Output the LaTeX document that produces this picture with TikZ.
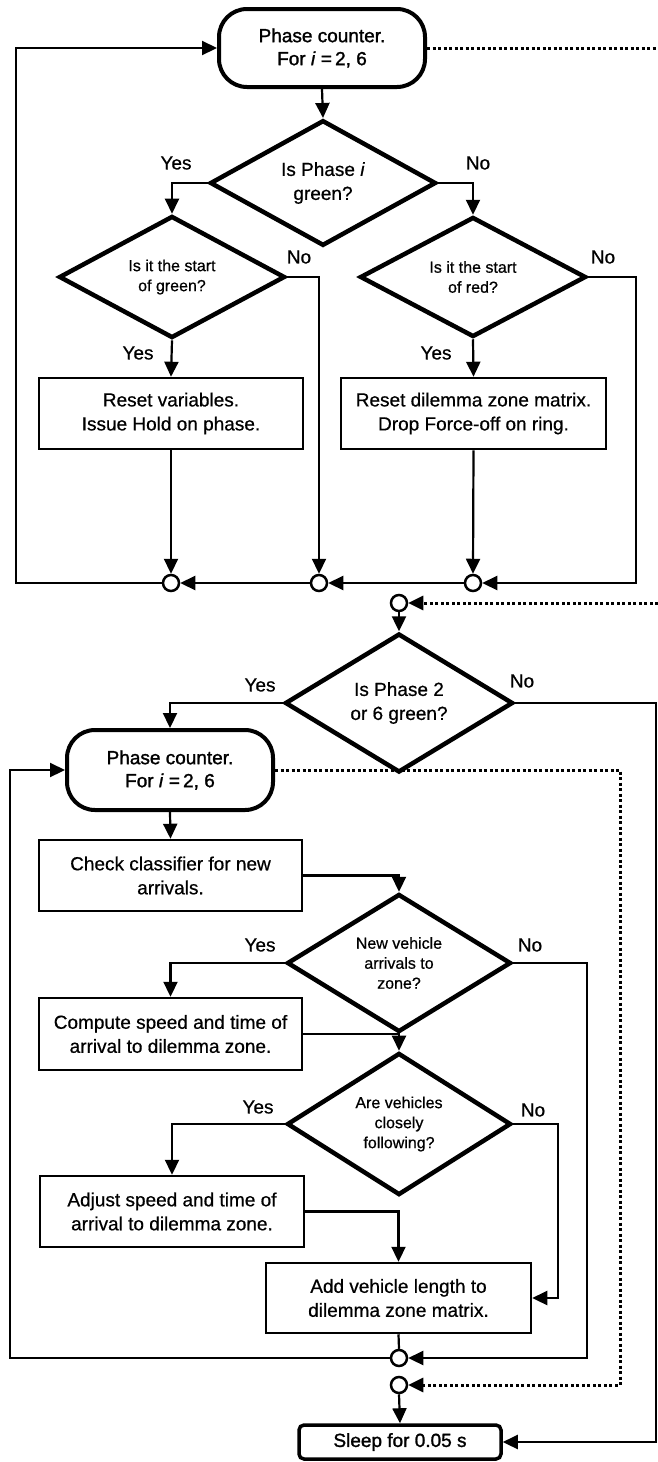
\documentclass[tikz,border=0pt]{standalone}
\usepackage{fontspec}
\setmainfont{Liberation Sans}[FakeBold=0.6]
\newfontfamily\heavyfont{Liberation Sans}[FakeBold=1.4]
\usetikzlibrary{shapes.geometric,arrows.meta}
\tikzset{
  base/.style={font=\fontsize{19}{24}\selectfont, align=center, inner sep=0pt},
  term/.style={base, font=\heavyfont\fontsize{19}{23}\selectfont, draw, line width=4pt, rounded corners=28pt, minimum width=206pt, minimum height=78pt, fill=white},
  dec/.style={base, diamond, draw, line width=4.5pt, minimum width=226pt, minimum height=120pt},
  decs/.style={dec, font=\fontsize{16}{20}\selectfont},
  proc/.style={base, draw, line width=2.5pt, minimum width=264pt, minimum height=71pt},
  sleepbox/.style={base, font=\heavyfont\fontsize{19}{24}\selectfont, draw, line width=3.5pt, rounded corners=5pt, minimum width=202pt, minimum height=34pt},
  junc/.style={circle, draw, line width=2.5pt, fill=white, minimum size=16pt, inner sep=0pt},
  flow/.style={line width=2.2pt, -{Triangle[length=15pt,width=14pt]}},
  conn/.style={line width=2.2pt},
  dotline/.style={line width=3pt, dash pattern=on 3pt off 2.5pt},
  dotflow/.style={dotline, -{Triangle[length=15pt,width=14pt]}},
  lbl/.style={font=\fontsize{19}{24}\selectfont, inner sep=0pt},
}
\begin{document}
\begin{tikzpicture}[x=1pt,y=-1pt]
\useasboundingbox (0,0) rectangle (658,1462);
% nodes
\node[term] (t1) at (322,48) {Phase counter.\\For \textit{i} =\,2, 6};
\node[dec] (d1) at (323,183) {Is Phase \textit{i}\\green?};
\node[decs] (d2) at (172,277) {Is it the start\\of green?};
\node[decs] (d3) at (473,277) {Is it the start\\of red?};
\node[proc] (b1) at (171,413.5) {Reset variables.\\Issue Hold on phase.};
\node[proc, minimum width=265pt] (b2) at (473.5,413.5) {Reset dilemma zone matrix.\\Drop Force-off on ring.};
\node[junc] (c1) at (171,583) {};
\node[junc] (c2) at (319,583) {};
\node[junc] (c3) at (473,583) {};
\node[junc] (c4) at (399,603) {};
\node[dec, minimum width=228pt, minimum height=122pt] (d4) at (399,703) {Is Phase 2\\or 6 green?};
\node[term, minimum height=80pt] (t2) at (170,770) {Phase counter.\\For \textit{i} =\,2, 6};
\node[proc, minimum width=263pt] (b3) at (170.5,875.5) {Check classifier for new\\arrivals.};
\node[decs, minimum width=224pt] (d5) at (399,963) {New vehicle\\arrivals to\\zone?};
\node[proc, minimum width=263pt, minimum height=72pt] (b4) at (170.5,1034) {Compute speed and time of\\arrival to dilemma zone.};
\node[decs, minimum width=224pt, minimum height=122pt] (d6) at (399,1124) {Are vehicles\\closely\\following?};
\node[proc] (b5) at (172,1211.5) {Adjust speed and time of\\arrival to dilemma zone.};
\node[proc, minimum width=265pt, minimum height=70pt] (b6) at (398.5,1298) {Add vehicle length to\\dilemma zone matrix.};
\node[junc] (c5) at (399,1358) {};
\node[junc] (c6) at (399,1385) {};
\node[sleepbox] (sl) at (400,1442) {Sleep for 0.05 s};
% labels
\node[lbl] (l1) at (176,163) {Yes};
\node[lbl] (l2) at (478,163) {No};
\node[lbl] (l3) at (299,257) {No};
\node[lbl] (l4) at (603,257) {No};
\node[lbl] (l5) at (138,353) {Yes};
\node[lbl] (l6) at (436,353) {Yes};
\node[lbl] (l7) at (260,685) {Yes};
\node[lbl] (l8) at (522,681) {No};
\node[lbl] (l9) at (260,945) {Yes};
\node[lbl] (l10) at (530,945) {No};
\node[lbl] (l11) at (258,1107) {Yes};
\node[lbl] (l12) at (533,1110) {No};
% bend coordinates
\coordinate (k1) at (636,583);
\coordinate (k2) at (16,583);
\coordinate (k3) at (658,48);
\coordinate (k4) at (658,603);
\coordinate (k5) at (656,1442);
\coordinate (k6) at (620,1385);
\coordinate (k7) at (587,1358);
\coordinate (k8) at (558,1298);
\coordinate (k9) at (10,1358);
% connectors, upper part
\draw[flow] (t1.south) -- (d1.north);
\draw[flow] (d1.west) -| (d2.north);
\draw[flow] (d1.east) -| (d3.north);
\draw[flow] (d2.south) -- (b1.north);
\draw[flow] (d3.south) -- (b2.north);
\draw[flow] (d2.east) -| (c2.north);
\draw[flow] (d3.east) -| (k1) -- (c3.east);
\draw[flow] (b1.south) -- (c1.north);
\draw[flow] (b2.south) -- (c3.north);
\draw[flow] (c3.west) -- (c2.east);
\draw[flow] (c2.west) -- (c1.east);
\draw[flow] (c1.west) -- (k2) |- (t1.west);
\draw[dotline] (t1.east) -- (k3);
\draw[dotflow] (k4) -- (c4.east);
% lower part
\draw[flow] (c4.south) -- (d4.north);
\draw[flow] (d4.west) -| (t2.north);
\draw[flow] (d4.east) -| (k5) -- (sl.east);
\draw[dotflow] (t2.east) -| (k6) -- (c6.east);
\draw[flow] (t2.south) -- (b3.north);
\draw[flow] (b3.east) -| (d5.north);
\draw[flow] (d5.west) -| (b4.north);
\draw[flow] (d5.east) -| (k7) -- (c5.east);
\draw[flow] (b4.east) -| (d6.north);
\draw[flow] (d6.west) -| (b5.north);
\draw[flow] (d6.east) -| (k8) -- (b6.east);
\draw[flow] (b5.east) -| (b6.north);
\draw[conn] (b6.south) -- (c5.north);
\draw[flow] (c5.west) -- (k9) |- (t2.west);
\draw[flow] (c6.south) -- (sl.north);
\end{tikzpicture}
\end{document}
